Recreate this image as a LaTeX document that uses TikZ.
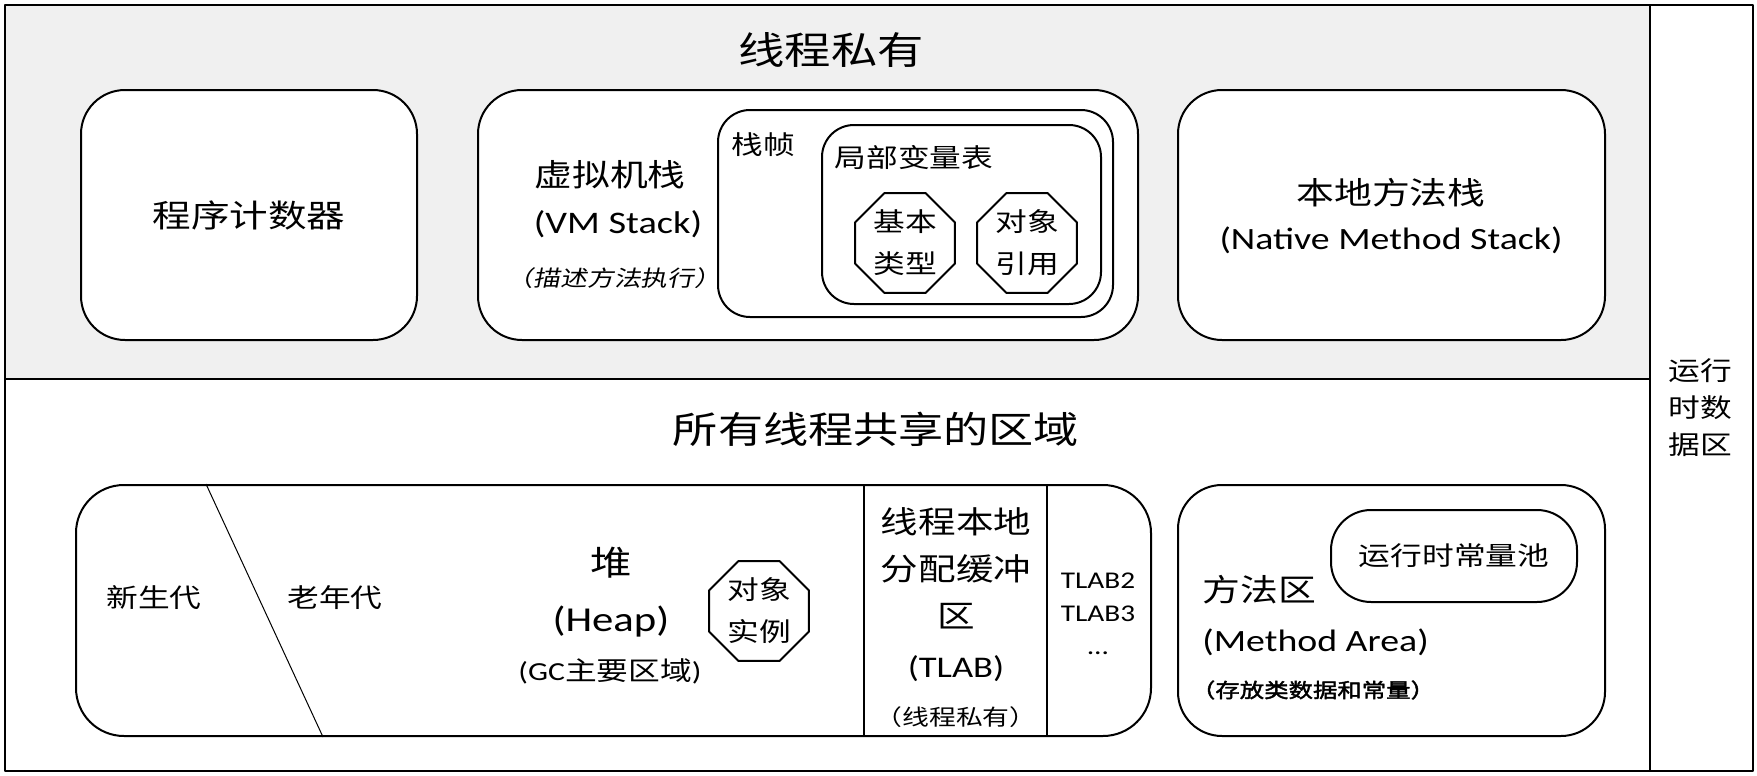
\documentclass[tikz,border=0pt]{standalone}
\usepackage{fontspec}
\setmainfont[FakeStretch=1.22]{Noto Sans CJK SC}
\newfontfamily\lat[FakeStretch=1.22]{Carlito}
\newfontfamily\cjkit[FakeStretch=1.22,FakeSlant=0.2]{Noto Sans CJK SC}
\newfontfamily\cjkbf[FakeStretch=1.22,FakeBold=2]{Noto Sans CJK SC}
\usetikzlibrary{shapes.geometric}
\definecolor{bandgray}{HTML}{F0F0F0}
\newcommand{\fsz}[2]{\fontsize{#1}{#2}\selectfont}
\tikzset{
  box/.style={draw, line width=1pt, fill=white, rounded corners=#1, inner sep=0pt},
  box/.default=22pt,
  octa/.style={draw, line width=1pt, fill=white, regular polygon, regular polygon sides=8,
    minimum size=54pt, inner sep=0pt, align=center, font=\fsz{13}{21}},
  lbl/.style={inner sep=0pt, align=center},
}
\begin{document}
\begin{tikzpicture}[x=0.5pt, y=-0.5pt, line join=round]
\useasboundingbox (0,0) rectangle (1757,776);
\draw[line width=1pt, fill=bandgray] (5,5) rectangle (1650,379);
\draw[line width=1pt] (5,379) rectangle (1650,771);
\draw[line width=1pt] (1650,5) rectangle (1753,771);

\node[lbl, font=\fsz{19}{23}] (priv) at (831,50) {线程私有};
\node[lbl, font=\fsz{18.5}{22}] (shared) at (876,429) {所有线程共享的区域};
\node[lbl, font=\fsz{13}{18.5}] (rtda) at (1700,408) {运行\\时数\\据区};

\node[box, minimum width=168pt, minimum height=125pt, font=\fsz{15.8}{19}] (pc) at (249,215) {程序计数器};

\node[box, minimum width=330pt, minimum height=125pt] (vms) at (808,215) {};
\node[box=16pt, minimum width=197.5pt, minimum height=103.5pt] (frame) at (915.5,213.5) {};
\node[box=16pt, minimum width=139.5pt, minimum height=89.5pt] (lvt) at (961.5,214.5) {};
\node[lbl, font=\fsz{15.5}{19}] (vmsname) at (610,175) {虚拟机栈};
\node[lbl, font=\lat\fsz{15.7}{19}] (vmsen) at (618,224) {(VM Stack)};
\node[lbl, font=\cjkit\fsz{11}{13}] (vmsnote) at (614,278) {（描述方法执行）};
\node[lbl, font=\fsz{13}{16}] (framename) at (763,145) {栈帧};
\node[lbl, font=\fsz{13}{16}] (lvtname) at (914,158) {局部变量表};
\node[octa] (prim) at (905,243) {基本\\类型};
\node[octa] (ref) at (1027,243) {对象\\引用};

\node[box, minimum width=213.5pt, minimum height=125pt] (nms) at (1391.5,215) {};
\node[lbl, font=\fsz{15.5}{19}] (nmsname) at (1391,193) {本地方法栈};
\node[lbl, font=\lat\fsz{15.5}{19}] (nmsen) at (1391,240) {(Native Method Stack)};

\node[box=24pt, minimum width=537.5pt, minimum height=125.5pt] (heap) at (613.5,610.5) {};
\draw[line width=0.5pt] ([xshift=65.5pt]heap.north west) -- ([xshift=124pt]heap.south west);
\draw[line width=0.8pt] ([xshift=394.5pt]heap.north west) -- ([xshift=394.5pt]heap.south west);
\draw[line width=0.8pt] ([xshift=486pt]heap.north west) -- ([xshift=486pt]heap.south west);
\node[lbl, font=\fsz{13}{16}] (young) at (154,598) {新生代};
\node[lbl, font=\fsz{13}{16}] (old) at (335,598) {老年代};
\node[lbl, font=\fsz{17}{20}] (heapname) at (611,563) {堆};
\node[lbl, font=\lat\fsz{17.5}{20}] (heapen) at (611,622) {(Heap)};
\node[lbl, font=\fsz{13}{16}] (heapnote) at (610,671) {{\lat(GC}主要区域{\lat)}};
\node[octa] (inst) at (759,611) {对象\\实例};
\node[lbl, font=\fsz{15.4}{23.5}] (tlabname) at (956,568) {线程本地\\分配缓冲\\区};
\node[lbl, font=\lat\fsz{15}{18}] (tlaben) at (956,669) {(TLAB)};
\node[lbl, font=\fsz{11}{13}] (tlabnote) at (956,717) {（线程私有）};
\node[lbl, font=\lat\fsz{12}{16.5}] (tlabs) at (1098,614) {TLAB2\\TLAB3\\…};

\node[box, minimum width=213.5pt, minimum height=125.5pt] (mth) at (1391.5,610.5) {};
\node[box=20pt, minimum width=123pt, minimum height=46pt, font=\fsz{13}{16}] (pool) at (1454,556) {运行时常量池};
\node[lbl, anchor=west, font=\fsz{15.5}{19}] (mthname) at (1202,590) {方法区};
\node[lbl, anchor=west, font=\lat\fsz{15.5}{19}] (mthen) at (1202,642) {(Method Area)};
\node[lbl, font=\cjkbf\fsz{10}{13}] (mthnote) at (1313,690) {（存放类数据和常量）};
\end{tikzpicture}
\end{document}
